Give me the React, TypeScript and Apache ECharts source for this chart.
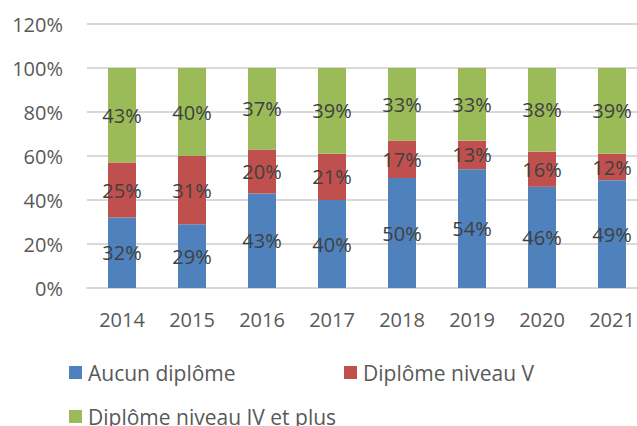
import React, { useEffect, useRef } from "react";
import * as echarts from "echarts";

const years = ["2014", "2015", "2016", "2017", "2018", "2019", "2020", "2021"];
const aucun = [32, 29, 43, 40, 50, 54, 46, 49];
const niveauV = [25, 31, 20, 21, 17, 13, 16, 12];
const niveauIV = [43, 40, 37, 39, 33, 33, 38, 39];
const seriesNames = ["Aucun diplôme", "Diplôme niveau V", "Diplôme niveau IV et plus"];
const colors = ["#4f81bd", "#c0504d", "#9bbb59"];

const FONT = "'Open Sans', 'Noto Sans', sans-serif";

export default function App() {
  const ref = useRef<HTMLDivElement>(null);
  useEffect(() => {
    document.body.style.margin = "0";
    document.body.style.overflow = "hidden";
    const chart = echarts.init(ref.current!, null, { renderer: "svg" });
    const label = {
      show: true,
      position: "inside" as const,
      color: "#404040",
      fontSize: 20,
      fontFamily: FONT,
      formatter: (p: any) => p.value + "%",
    };
    const mk = (name: string, data: number[], color: string) => ({
      name,
      type: "bar",
      stack: "total",
      data,
      barWidth: 28,
      itemStyle: { color },
      label,
    });
    const legendCommon = {
      icon: "rect",
      itemWidth: 13,
      itemHeight: 13,
      itemGap: 6,
      padding: 0,
      textStyle: { color: "#595959", fontSize: 21, fontFamily: FONT, padding: [0, 0, 0, 1] },
    };
    chart.setOption({
      animation: false,
      textStyle: { fontFamily: FONT },
      grid: { left: 87, right: 0, top: 24, bottom: 426 - 288 },
      xAxis: {
        type: "category",
        data: years,
        axisLine: { lineStyle: { color: "#d9d9d9", width: 2 } },
        axisTick: { show: false },
        axisLabel: { color: "#595959", fontSize: 20, margin: 21, fontFamily: FONT },
      },
      yAxis: {
        type: "value",
        min: 0,
        max: 120,
        interval: 20,
        axisLine: { show: false },
        axisTick: { show: false },
        splitLine: { lineStyle: { color: "#d9d9d9", width: 2 } },
        axisLabel: {
          color: "#595959",
          fontSize: 20,
          margin: 24,
          fontFamily: FONT,
          formatter: (v: number) => v + "%",
        },
      },
      legend: [
        { ...legendCommon, data: [seriesNames[0]], left: 69, top: 362 },
        { ...legendCommon, data: [seriesNames[1]], left: 344, top: 362 },
        { ...legendCommon, data: [seriesNames[2]], left: 69, top: 406 },
      ],
      series: [
        mk(seriesNames[0], aucun, colors[0]),
        mk(seriesNames[1], niveauV, colors[1]),
        mk(seriesNames[2], niveauIV, colors[2]),
      ],
    });
    return () => chart.dispose();
  }, []);
  return <div ref={ref} style={{ width: 647, height: 426 }} />;
}
